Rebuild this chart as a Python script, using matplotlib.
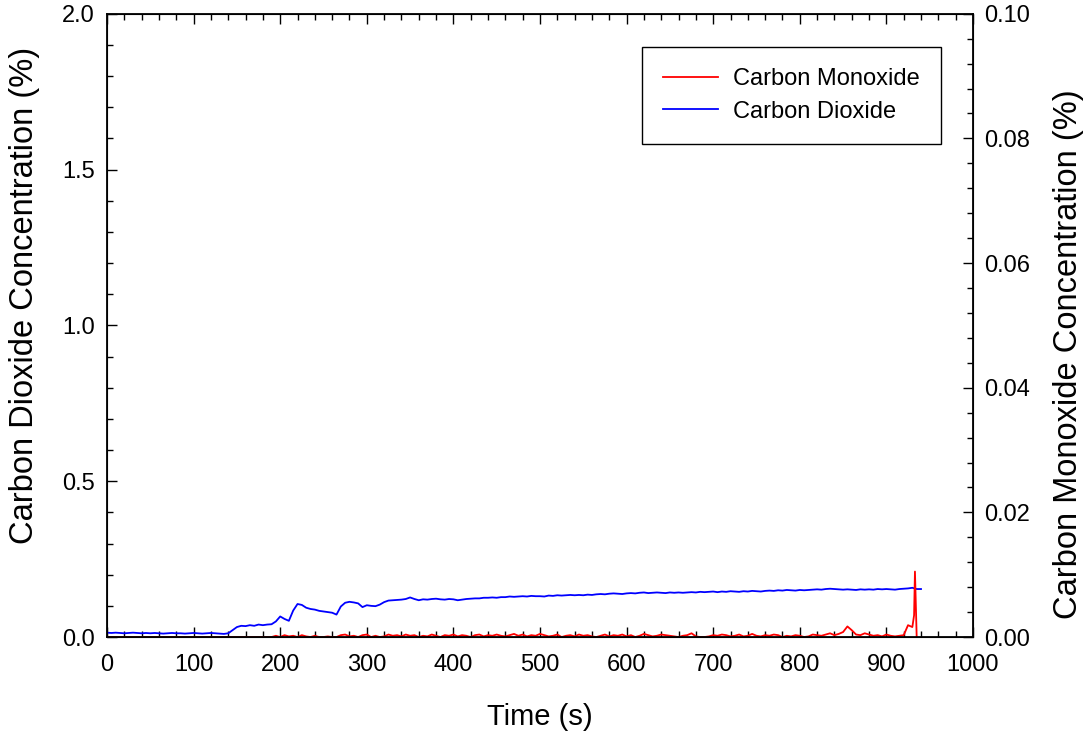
import numpy as np
import matplotlib
matplotlib.use("Agg")
import matplotlib.pyplot as plt
from matplotlib.ticker import MultipleLocator, FormatStrFormatter

plt.rcParams['font.family'] = ['Liberation Sans', 'DejaVu Sans']

# CO2 (%) sampled every 5 s, 0 - 940 s
co2_time = np.arange(0, 945, 5)
co2 = [0.014, 0.013, 0.014, 0.013, 0.012, 0.013, 0.014, 0.013, 0.012, 0.013,
       0.012, 0.013, 0.012, 0.011, 0.012, 0.013, 0.012, 0.012, 0.011, 0.012,
       0.013, 0.012, 0.011, 0.012, 0.013, 0.012, 0.011, 0.010, 0.012,
       0.022, 0.032, 0.036, 0.035, 0.038, 0.036, 0.040, 0.038, 0.040, 0.041,
       0.050, 0.066, 0.058, 0.052, 0.085, 0.106, 0.103, 0.094, 0.090, 0.088,
       0.084, 0.082, 0.080, 0.078, 0.072, 0.098, 0.110, 0.113, 0.111, 0.108,
       0.096, 0.102, 0.100, 0.099, 0.104, 0.112, 0.117, 0.118, 0.119, 0.120,
       0.122, 0.127, 0.122, 0.118, 0.121, 0.120, 0.122, 0.123, 0.121, 0.120,
       0.122, 0.121, 0.118, 0.120, 0.122, 0.123, 0.124, 0.124, 0.126, 0.126,
       0.127, 0.126, 0.128, 0.128, 0.130, 0.129, 0.130, 0.131, 0.130, 0.132,
       0.131, 0.131, 0.130, 0.133, 0.132, 0.134, 0.133, 0.134, 0.135, 0.134,
       0.135, 0.134, 0.136, 0.135, 0.137, 0.138, 0.137, 0.139, 0.140, 0.139,
       0.138, 0.140, 0.141, 0.140, 0.142, 0.143, 0.141, 0.142, 0.143, 0.142,
       0.141, 0.143, 0.142, 0.143, 0.142, 0.143, 0.144, 0.143, 0.145, 0.144,
       0.145, 0.146, 0.144, 0.146, 0.145, 0.147, 0.146, 0.145, 0.147, 0.146,
       0.148, 0.147, 0.146, 0.148, 0.149, 0.148, 0.150, 0.149, 0.151, 0.150,
       0.149, 0.151, 0.150, 0.151, 0.152, 0.153, 0.152, 0.154, 0.155, 0.154,
       0.153, 0.152, 0.153, 0.152, 0.151, 0.153, 0.152, 0.153, 0.152, 0.154,
       0.153, 0.154, 0.153, 0.152, 0.154, 0.155, 0.156, 0.158, 0.154, 0.154]

# CO (%) sampled every 5 s, 0 - 930 s, then the spike at the end
co_time = np.arange(0, 935, 5)
co = [0.0] * 39 + [
    0.0002, 0.0, 0.0003, 0.0001, 0.0002, 0.0, 0.0003, 0.0001, 0.0, 0.0002,
    0.0, 0.0, 0.0001, 0.0, 0.0, 0.0003, 0.0004, 0.0001, 0.0002, 0.0,
    0.0003, 0.0004, 0.0, 0.0002, 0.0, 0.0001, 0.0004, 0.0002, 0.0003, 0.0001,
    0.0004, 0.0002, 0.0003, 0.0, 0.0002, 0.0001, 0.0004, 0.0002, 0.0, 0.0003,
    0.0002, 0.0004, 0.0001, 0.0003, 0.0002, 0.0, 0.0003, 0.0004, 0.0001, 0.0003,
    0.0002, 0.0004, 0.0002, 0.0001, 0.0003, 0.0005, 0.0002, 0.0004, 0.0001, 0.0003,
    0.0002, 0.0005, 0.0003, 0.0001, 0.0002, 0.0004, 0.0, 0.0002, 0.0003, 0.0001,
    0.0004, 0.0002, 0.0003, 0.0001, 0.0, 0.0002, 0.0004, 0.0001, 0.0003, 0.0002,
    0.0004, 0.0001, 0.0003, 0.0, 0.0002, 0.0005, 0.0003, 0.0001, 0.0002, 0.0004,
    0.0003, 0.0002, 0.0001, 0.0, 0.0002, 0.0003, 0.0006, 0.0001, 0.0, 0.0,
    0.0001, 0.0003, 0.0002, 0.0004, 0.0003, 0.0001, 0.0002, 0.0004, 0.0001, 0.0002,
    0.0005, 0.0002, 0.0001, 0.0003, 0.0002, 0.0004, 0.0003, 0.0, 0.0002, 0.0001,
    0.0003, 0.0002, 0.0, 0.0001, 0.0004, 0.0003, 0.0002, 0.0004, 0.0006, 0.0003,
    0.0005, 0.0008, 0.0017, 0.0011, 0.0004, 0.0003, 0.0006, 0.0004, 0.0002, 0.0003,
    0.0001, 0.0004, 0.0002, 0.0001, 0.0002, 0.0003, 0.0019, 0.0016]
co_tail_time = [932, 933, 935]
co_tail = [0.0035, 0.0105, 0.0]

fig = plt.figure(figsize=(10.92, 7.35), dpi=100)
ax = fig.add_axes([0.098, 0.1333, 0.793, 0.848])
ax2 = ax.twinx()

l2, = ax.plot(co2_time, co2, color="blue", lw=1.3, label="Carbon Dioxide")
l1, = ax2.plot(np.concatenate([co_time, co_tail_time]), co + co_tail,
               color="red", lw=1.3, label="Carbon Monoxide")

ax.set_xlim(0, 1000)
ax.set_ylim(0, 2.0)
ax2.set_ylim(0, 0.1)

ax.xaxis.set_major_locator(MultipleLocator(100))
ax.xaxis.set_minor_locator(MultipleLocator(20))
ax.yaxis.set_major_locator(MultipleLocator(0.5))
ax.yaxis.set_minor_locator(MultipleLocator(0.1))
ax.yaxis.set_major_formatter(FormatStrFormatter("%.1f"))
ax2.yaxis.set_major_locator(MultipleLocator(0.02))
ax2.yaxis.set_minor_locator(MultipleLocator(0.004))
ax2.yaxis.set_major_formatter(FormatStrFormatter("%.2f"))

ax.tick_params(axis="x", which="both", direction="in", top=True, labelsize=17, pad=12)
ax.tick_params(axis="y", which="both", direction="in", right=False, labelsize=17, pad=9)
ax2.tick_params(axis="y", which="both", direction="in", labelsize=17, pad=8)
for a in (ax, ax2):
    a.tick_params(which="major", length=7, width=1)
    a.tick_params(which="minor", length=4, width=1)
for s in ax2.spines.values():
    s.set_linewidth(1.3)

ax.set_xlabel("Time (s)", fontsize=21, labelpad=20)
# y titles placed by their centres
fig.text(25 / 1092, 1 - 295 / 735, "Carbon Dioxide Concentration (%)",
         rotation=90, ha="center", va="center", fontsize=23.5)
fig.text(1069 / 1092, 1 - 354 / 735, "Carbon Monoxide Concentration (%)",
         rotation=90, ha="center", va="center", fontsize=23.5)

leg = ax2.legend(handles=[l1, l2], loc="upper right", bbox_to_anchor=(0.963, 0.947),
                 fontsize=17, frameon=True, fancybox=False, framealpha=1,
                 edgecolor="black", borderpad=0.9, handlelength=2.3,
                 handletextpad=0.65, labelspacing=0.45, borderaxespad=0)
leg.get_frame().set_linewidth(1.0)

fig.savefig("out.png", dpi=100)
